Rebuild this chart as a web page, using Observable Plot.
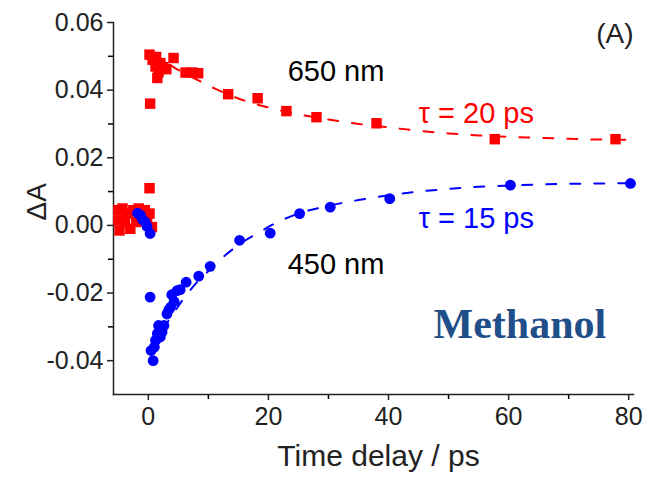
<!DOCTYPE html>
<html>
<head>
<meta charset="utf-8">
<script src="https://cdn.jsdelivr.net/npm/d3@7"></script>
<script src="https://cdn.jsdelivr.net/npm/@observablehq/plot@0.6"></script>
<style>
  html, body { margin: 0; padding: 0; background: #fff; }
  #chart svg { display: block; }
</style>
</head>
<body>
<div id="chart"></div>
<script>
// Transient absorption kinetics in methanol, probed at 650 nm and 450 nm.

// 650 nm probe (red squares)
const time650 = [-5.0, -5.0, -4.8, -4.3, -3.9, -3.4, -3.0, -2.5, -2.0, -1.6, -1.1, -0.6, -0.2, 0.2, 0.6, 0.2,
  0.3, 0.2, 0.7, 1.3, 2.0, 2.5, 1.7, 1.2, 1.5, 3.0, 4.2, 6.2, 7.3, 8.3, 13.3, 18.2, 23.0, 28.0, 38.0, 57.7, 77.8];
const dA650 = [0.0045, 0.0015, -0.0015, 0.0050, 0.0010, 0.0035, -0.0010, 0.0045, 0.0010, 0.0050, 0.0025, 0.0045, 0.0015, 0.0035, -0.0005, 0.0110,
  0.0360, 0.0505, 0.0490, 0.0498, 0.0480, 0.0468, 0.0453, 0.0470, 0.0436, 0.0462, 0.0495, 0.0452, 0.0452, 0.0450, 0.0388, 0.0376, 0.0338, 0.0320, 0.0302, 0.0255, 0.0255];

// 450 nm probe (blue circles)
const time450 = [-1.8, -1.3, -1.0, -0.5, -0.2, 0.3,
  0.3, 0.8, 0.45, 1.0, 1.2, 1.5, 2.0, 1.7, 2.3, 2.6, 3.1, 3.4, 3.7, 3.9, 4.3, 4.8, 5.3, 6.3, 8.4, 10.3, 15.2, 20.3, 25.2, 30.3, 40.2, 60.3, 80.3];
const dA450 = [0.0036, 0.0030, 0.0018, 0.0010, -0.0003, -0.0024,
  -0.0212, -0.0400, -0.0370, -0.0360, -0.0340, -0.0320, -0.0330, -0.0296, -0.0315, -0.0296, -0.0262, -0.0250, -0.0242, -0.0205, -0.0225, -0.0193, -0.0190, -0.0168, -0.0150, -0.0121, -0.0044, -0.0023, 0.0035, 0.0054, 0.0079, 0.0119, 0.0124];

// Exponential fits (dashed)
const fitTime650 = [0.5, 2, 4, 6, 8, 11, 14, 18, 22, 26, 30, 35, 40, 45, 50, 55, 60, 65, 70, 75, 80.8];
const fitDA650 = [0.0515, 0.0490, 0.0470, 0.0450, 0.0432, 0.0405, 0.0382, 0.0358, 0.0340, 0.0325, 0.0313, 0.0300, 0.0290, 0.0280, 0.0272, 0.0266, 0.0262, 0.0259, 0.0256, 0.0254, 0.0253];
const fitTime450 = [0.6, 2, 4, 6.5, 8, 10, 12.5, 15, 18.5, 21, 25, 30, 35, 40, 45, 50, 55, 60, 65, 70, 75, 80.8];
const fitDA450 = [-0.0370, -0.0320, -0.0265, -0.0202, -0.0170, -0.0135, -0.0093, -0.0058, -0.0020, 0.0005, 0.0035, 0.0058, 0.0075, 0.0089, 0.0100, 0.0108, 0.0114, 0.0118, 0.0121, 0.0123, 0.0124, 0.0125];

// Axis ticks
const xMajorTicks = [0, 20, 40, 60, 80];
const xMinorTicks = [10, 30, 50, 70];
const yMajorTicks = [-0.04, -0.02, 0.00, 0.02, 0.04, 0.06];
const yMinorTicks = [-0.03, -0.01, 0.01, 0.03, 0.05];

// Annotation texts, anchored in data coordinates
const labelText = ["650 nm", "τ = 20 ps", "τ = 15 ps", "450 nm"];
const labelTime = [23.2, 45, 45, 23.2];
const labelDA = [0.0455, 0.0329, 0.0021, -0.0116];
const labelColor = ["black", "#ff0000", "#0000ff", "black"];

const pts650 = time650.map((t, i) => ({t, v: dA650[i]}));
const pts450 = time450.map((t, i) => ({t, v: dA450[i]}));
const fit650 = fitTime650.map((t, i) => ({t, v: fitDA650[i]}));
const fit450 = fitTime450.map((t, i) => ({t, v: fitDA450[i]}));
const labels = labelText.map((text, i) => ({text, t: labelTime[i], v: labelDA[i], color: labelColor[i]}));

const font = "'Liberation Sans', Arial, sans-serif";

const chart = Plot.plot({
  width: 645,
  height: 479,
  marginLeft: 113,
  marginRight: 12,
  marginTop: 22,
  marginBottom: 85,
  style: {fontFamily: font, background: "#fff", color: "black"},
  x: {domain: [-5.8, 80.8]},
  y: {domain: [-0.05, 0.06]},
  marks: [
    Plot.axisX({ticks: xMajorTicks, tickSize: 6, tickPadding: 7, fontSize: 25, tickFormat: d => String(d), label: null, strokeWidth: 1.5, color: "#222"}),
    Plot.axisX({ticks: xMinorTicks, tickSize: 5, tickFormat: () => "", label: null, strokeWidth: 1.5}),
    Plot.axisY({ticks: yMajorTicks, tickSize: 6, tickPadding: 4, fontSize: 25, tickFormat: d => d.toFixed(2), label: null, strokeWidth: 1.5, color: "#222"}),
    Plot.axisY({ticks: yMinorTicks, tickSize: 5, tickFormat: () => "", label: null, strokeWidth: 1.5}),
    Plot.frame({anchor: "left", stroke: "#222", strokeWidth: 1.5}),
    Plot.frame({anchor: "bottom", stroke: "#222", strokeWidth: 1.5}),

    Plot.line(fit650, {x: "t", y: "v", stroke: "#ff0000", strokeWidth: 2, strokeDasharray: "10,14", curve: "monotone-x"}),
    Plot.line(fit450, {x: "t", y: "v", stroke: "#0000ff", strokeWidth: 2, strokeDasharray: "10,14", curve: "monotone-x"}),

    Plot.dot(pts650, {x: "t", y: "v", symbol: "square", r: 5.9, fill: "#ff0000", stroke: "none"}),
    Plot.dot(pts450, {x: "t", y: "v", r: 5.4, fill: "#0000ff", stroke: "none"}),

    Plot.text(labels, {x: "t", y: "v", text: "text", fill: "color", textAnchor: "start", fontSize: 29}),
    Plot.text(["Methanol"], {x: 47.5, y: -0.0293, textAnchor: "start", fontSize: 42, fontWeight: "bold", fontFamily: "'Liberation Serif', 'Times New Roman', serif", fill: "#1f4e89"}),
    Plot.text(["(A)"], {x: 74.6, y: 0.0565, textAnchor: "start", fontSize: 28, fill: "#222"}),

    Plot.text(["Time delay / ps"], {frameAnchor: "bottom", dx: 5, dy: 71, fontSize: 30, fill: "#222"}),
    Plot.text(["ΔA"], {frameAnchor: "left", dx: -76, dy: 12, rotate: -90, fontSize: 28, fill: "#222"})
  ]
});

document.getElementById("chart").appendChild(chart);
</script>
</body>
</html>
